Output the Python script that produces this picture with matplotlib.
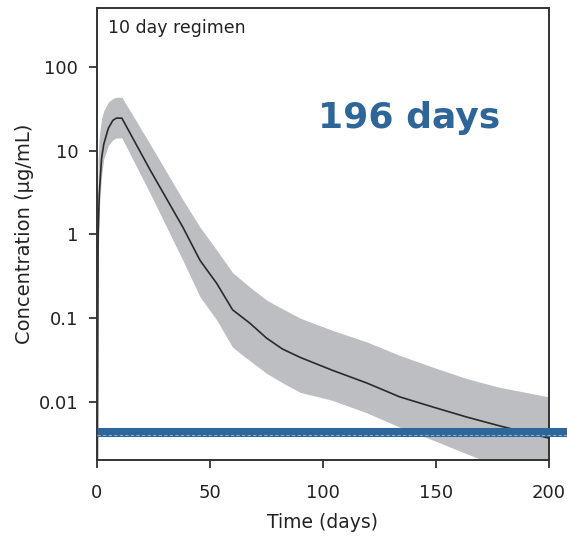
import matplotlib
matplotlib.use("Agg")
import matplotlib.pyplot as plt
import matplotlib.transforms as mtransforms

plt.rcParams['font.family'] = ['DejaVu Sans']

# Data (days, concentration in ug/mL)
days = [0, 0.5, 1, 2, 3, 5, 7, 8.5, 11, 23.5, 38, 45.6, 53, 60, 67.7, 75, 82,
        90, 104, 119.5, 134, 148.7, 163.7, 178, 200]
mean_conc = [1e-4, 1.0, 3.0, 8, 12, 18.5, 23, 24.5, 24.5, 5.9, 1.22, 0.49, 0.26,
             0.126, 0.087, 0.058, 0.043, 0.034, 0.024, 0.0168, 0.0115, 0.0087,
             0.0066, 0.0052, 0.0037]
upper_conc = [1e-4, 8, 15, 24, 30, 38, 42, 43.5, 43.5, 12, 2.6, 1.22, 0.65,
              0.35, 0.235, 0.165, 0.13, 0.10, 0.072, 0.052, 0.036, 0.026,
              0.019, 0.015, 0.0115]
lower_conc = [1e-4, 0.4, 2, 5, 8, 11.5, 13.5, 14.2, 14.2, 3.1, 0.49, 0.18, 0.095,
              0.045, 0.031, 0.022, 0.017, 0.013, 0.0105, 0.0074, 0.005, 0.0035,
              0.0024, 0.0017, 0.0011]
threshold = 0.00438
lloq = 0.00404

x_ticks = [0, 50, 100, 150, 200]
y_ticks = [0.01, 0.1, 1, 10, 100]
y_tick_labels = ["0.01", "0.1", "1", "10", "100"]

panel_label = "10 day regimen"
annotation = "196 days"

fig = plt.figure(figsize=(5.67, 5.39), dpi=100)
ax = fig.add_axes([97 / 567, 1 - 460 / 539, 452 / 567, 452 / 539])

ax.fill_between(days, lower_conc, upper_conc, color='#bdbec1', linewidth=0)
ax.plot(days, mean_conc, color='#2a2a2a', linewidth=1.2)

ax.set_yscale('log')
ax.set_xlim(0, 200)
ax.set_ylim(0.00203, 506)
ax.set_xticks(x_ticks)
ax.set_yticks(y_ticks)
ax.set_yticklabels(y_tick_labels)
ax.minorticks_off()

for s in ax.spines.values():
    s.set_color('#333333')
    s.set_linewidth(1.4)
ax.tick_params(axis='both', direction='out', length=6, width=1.3,
               color='#333333', labelsize=13, labelcolor='#222222')
ax.tick_params(axis='x', pad=11)
ax.tick_params(axis='y', pad=7.5)

ax.set_xlabel("Time (days)", fontsize=13.5, color='#222222', labelpad=8)
ax.set_ylabel("Concentration (\u03bcg/mL)", fontsize=14, color='#222222', labelpad=3)

trans = mtransforms.blended_transform_factory(ax.transAxes, ax.transData)
ax.plot([0, 1.05], [threshold, threshold], transform=trans, color='#2e6699',
        linewidth=6.5, clip_on=False, solid_capstyle='butt', zorder=5)
ax.plot([0, 1.05], [lloq, lloq], transform=trans, color='#8fb0d2',
        linewidth=0.8, linestyle=(0, (3, 2)), clip_on=False, zorder=6)

ax.text(0.024, 0.975, panel_label, transform=ax.transAxes, fontsize=12.5,
        color='#222222', ha='left', va='top')
ax.text(0.69, 0.757, annotation, transform=ax.transAxes, fontsize=26,
        fontweight='bold', color='#2e6699', ha='center', va='center')

fig.savefig("out.png", dpi=100)
